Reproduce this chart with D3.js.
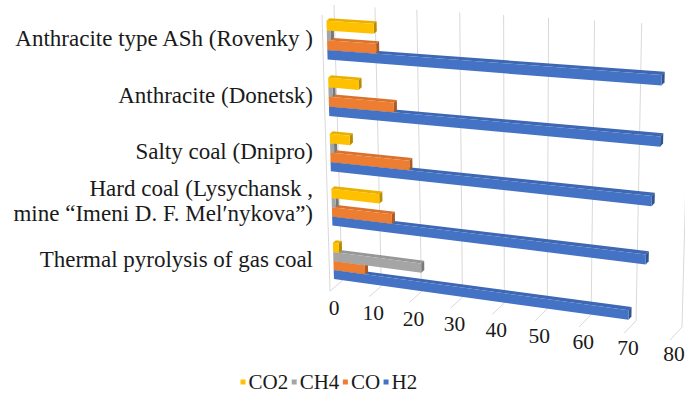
<!DOCTYPE html>
<html>
<head>
<meta charset="utf-8">
<script src="https://cdn.jsdelivr.net/npm/d3@7"></script>
<style>
  html, body { margin: 0; padding: 0; background: #ffffff; }
  svg { display: block; }
</style>
</head>
<body>
<svg id="chart" width="685" height="394"></svg>
<script>
// Gas composition (%) per coal sample, top row first
const categories = [
  ["Anthracite type ASh (Rovenky )"],
  ["Anthracite (Donetsk)"],
  ["Salty coal (Dnipro)"],
  ["Hard coal (Lysychansk ,", "mine “Imeni D. F. Mel′nykova”)"],
  ["Thermal pyrolysis of gas coal"]
];
const seriesNames = ["CO2", "CH4", "CO", "H2"];
const co2 = [11.5, 7.5, 5, 12, 1.5];
const ch4 = [1, 1, 1, 1, 22];
const co  = [12, 16, 19.5, 15, 8];
const h2  = [76, 76, 74.5, 73.5, 70];
const tickValues = [0, 10, 20, 30, 40, 50, 60, 70, 80];
const seriesColors = ["#FFC000", "#A5A5A5", "#ED7D31", "#4472C4"];

const seriesValues = { CO2: co2, CH4: ch4, CO: co, H2: h2 };

const svg = d3.select("#chart")
  .attr("font-family", "Liberation Serif")
  .style("font-family", "'Liberation Serif'");

// Value axis maps to the unit width of the back wall
const xScale = d3.scaleLinear().domain([0, 80]).range([0, 1]);
// Categories share the unit height of the wall, series split each band
const catKeys = categories.map((c, i) => i);
const yBand = d3.scaleBand().domain(catKeys).range([0, 1]).paddingInner(0.32).paddingOuter(0.16);
const ySub = d3.scaleBand().domain(seriesNames).range([0, yBand.bandwidth()]);
const color = d3.scaleOrdinal().domain(seriesNames).range(seriesColors);

// Projective map from the unit square onto a quadrilateral (p0..p3 clockwise from top-left)
function quadMap(p0, p1, p2, p3) {
  const [x0, y0] = p0, [x1, y1] = p1, [x2, y2] = p2, [x3, y3] = p3;
  const dx1 = x1 - x2, dx2 = x3 - x2, dx3 = x0 - x1 + x2 - x3;
  const dy1 = y1 - y2, dy2 = y3 - y2, dy3 = y0 - y1 + y2 - y3;
  const det = dx1 * dy2 - dx2 * dy1;
  const g = (dx3 * dy2 - dx2 * dy3) / det;
  const h = (dx1 * dy3 - dx3 * dy1) / det;
  const a = x1 - x0 + g * x1, b = x3 - x0 + h * x3, c = x0;
  const d = y1 - y0 + g * y1, e = y3 - y0 + h * y3, f = y0;
  return (u, w) => {
    const den = g * u + h * w + 1;
    return [(a * u + b * w + c) / den, (d * u + e * w + f) / den];
  };
}

// Back wall and the front edge of the floor in perspective
const backPlane  = quadMap([334, 5], [690, 26], [682, 327], [342, 281]);
const frontPlane = quadMap([322, 15], [678, 39], [670, 340], [330, 291]);

// v: value, t: 0 (top) .. 1 (bottom), z: 0 (back) .. 1 (front)
function project(v, t, z) {
  const u = xScale(v);
  const b = backPlane(u, t), f = frontPlane(u, t);
  return [b[0] + (f[0] - b[0]) * z, b[1] + (f[1] - b[1]) * z];
}

const poly = pts => d3.line()(pts) + "Z";

// Gridlines: back wall verticals, floor depth lines, front edge of the side wall
const grid = svg.append("g").attr("stroke", "#d9d9d9").attr("stroke-width", 1).attr("fill", "none");
tickValues.forEach(v => {
  grid.append("path").attr("d", d3.line()([project(v, 0, 0), project(v, 1, 0)]));
  grid.append("path").attr("d", d3.line()([project(v, 1, 0), project(v, 1, 1)]));
});
grid.append("path").attr("d", d3.line()([project(0, 0, 1), project(0, 1, 1)]));

// Bars: drawn bottom-up so upper bars sit over the faces beneath them
const zBack = 0.4, zFront = 0.65;
const bars = svg.append("g");
const barData = [];
catKeys.slice().reverse().forEach(ci => {
  seriesNames.slice().reverse().forEach(s => {
    const t0 = yBand(ci) + ySub(s);
    const t1 = t0 + ySub.bandwidth();
    barData.push({ ci, s, v: seriesValues[s][ci], t0, t1 });
  });
});
barData.forEach(d => {
  const base = d3.color(color(d.s));
  const g = bars.append("g");
  // top face
  g.append("path")
    .attr("d", poly([project(0, d.t0, zBack), project(d.v, d.t0, zBack), project(d.v, d.t0, zFront), project(0, d.t0, zFront)]))
    .attr("fill", base.darker(0.25));
  // end cap
  g.append("path")
    .attr("d", poly([project(d.v, d.t0, zBack), project(d.v, d.t1, zBack), project(d.v, d.t1, zFront), project(d.v, d.t0, zFront)]))
    .attr("fill", base.darker(0.9));
  // front face
  g.append("path")
    .attr("d", poly([project(0, d.t0, zFront), project(d.v, d.t0, zFront), project(d.v, d.t1, zFront), project(0, d.t1, zFront)]))
    .attr("fill", base);
});

// Value tick labels under the floor
svg.append("g").selectAll("text").data(tickValues).join("text")
  .attr("x", v => project(v, 1, 0)[0] - 8)
  .attr("y", v => project(v, 1, 0)[1] + 34)
  .attr("text-anchor", "middle")
  .attr("font-family", "Liberation Serif")
  .attr("font-size", 21.5)
  .attr("fill", "#1a1a1a")
  .text(v => v);

// Category labels
const catLabels = svg.append("g");
categories.forEach((lines, ci) => {
  const tc = yBand(ci) + yBand.bandwidth() / 2;
  const cy = project(0, tc, 0.5)[1];
  const lineH = 25;
  const shift = lines.length > 1 ? -4.5 : 0;
  const txt = catLabels.append("text")
    .attr("text-anchor", "end")
    .attr("font-family", "Liberation Serif")
    .attr("font-size", 23)
    .attr("fill", "#1a1a1a")
    .style("white-space", "pre");
  lines.forEach((ln, li) => {
    txt.append("tspan")
      .attr("x", 313)
      .attr("y", cy + 7.5 + shift + (li - (lines.length - 1) / 2) * lineH)
      .text(ln);
  });
});

// Legend
const legend = svg.append("g");
let lx = 240.5;
const ly = 389;
seriesNames.forEach(s => {
  legend.append("rect").attr("x", lx).attr("y", ly - 9.5).attr("width", 5).attr("height", 5).attr("fill", color(s));
  const t = legend.append("text").attr("x", lx + 8).attr("y", ly)
    .attr("font-family", "Liberation Serif").attr("font-size", 21).attr("fill", "#1a1a1a").text(s);
  lx += 8 + t.node().getComputedTextLength() + 3.5;
});
</script>
</body>
</html>
